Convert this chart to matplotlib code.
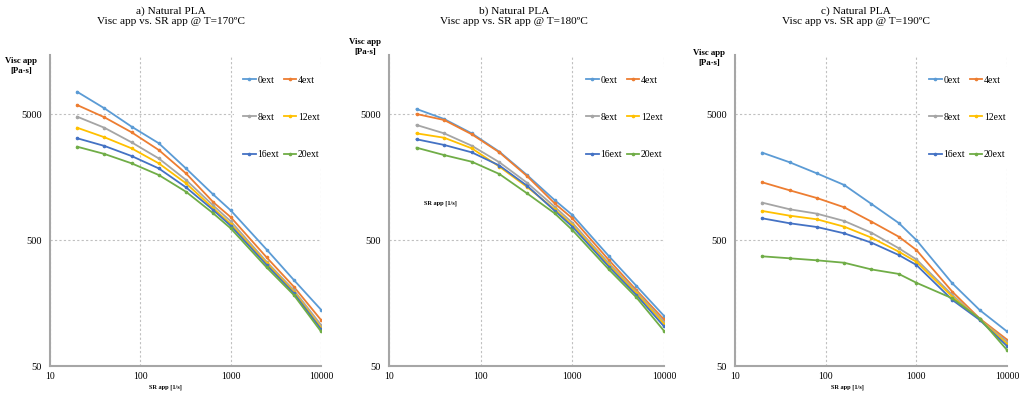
import matplotlib
matplotlib.use("Agg")
import matplotlib.pyplot as plt
from matplotlib.ticker import FixedLocator, NullLocator

plt.rcParams['font.family'] = ['Liberation Serif', 'DejaVu Serif']

# shear rate points (1/s)
shear_rate = [20, 40, 80, 160, 320, 640, 1000, 2500, 5000, 10000]
labels = ['0ext', '4ext', '8ext', '12ext', '16ext', '20ext']
colors = ['#5B9BD5', '#ED7D31', '#A5A5A5', '#FFC000', '#4472C4', '#70AD47']

# apparent viscosity (Pa·s), one row per extrusion count
visc_170 = [
    [7500, 5550, 3970, 2930, 1850, 1150, 860, 420, 241, 140],
    [5890, 4710, 3580, 2590, 1690, 1000, 760, 364, 213, 116],
    [4760, 3890, 2980, 2220, 1500, 940, 705, 336, 200, 106],
    [3890, 3270, 2670, 2030, 1410, 893, 670, 327, 194, 101],
    [3210, 2790, 2320, 1850, 1310, 865, 649, 317, 189, 98],
    [2750, 2410, 2030, 1640, 1208, 815, 619, 303, 183, 94],
]
visc_180 = [
    [5480, 4560, 3510, 2510, 1640, 1038, 790, 373, 216, 125],
    [5000, 4480, 3450, 2480, 1610, 978, 743, 347, 200, 117],
    [4090, 3510, 2800, 2070, 1425, 919, 686, 327, 194, 112],
    [3510, 3240, 2670, 1910, 1320, 877, 658, 317, 189, 108],
    [3150, 2840, 2480, 1950, 1350, 855, 638, 307, 183, 103],
    [2700, 2360, 2090, 1670, 1174, 815, 600, 292, 175, 95],
]
visc_190 = [
    [2466, 2070, 1690, 1367, 966, 682, 500, 226, 139, 94],
    [1435, 1240, 1077, 909, 699, 531, 417, 194, 119, 81],
    [989, 877, 809, 708, 571, 430, 351, 183, 117, 78],
    [850, 780, 730, 638, 522, 404, 336, 177, 117, 75],
    [743, 679, 634, 565, 476, 380, 317, 167, 116, 72],
    [371, 358, 345, 330, 292, 269, 229, 172, 119, 67],
]

titles = ['a) Natural PLA\nVisc app vs. SR app @ T=170ºC',
          'b) Natural PLA\nVisc app vs. SR app @ T=180ºC',
          'c) Natural PLA\nVisc app vs. SR app @ T=190ºC']
x_ticks = [10, 100, 1000, 10000]
y_ticks = [50, 500, 5000]

fig = plt.figure(figsize=(10.24, 3.96), dpi=100)

# [left, width] in pixels for each panel
panels = [(50, 271), (389, 275), (735, 272)]
title_x = [171, 514, 856]
ylab_pos = [(21, 66), (365, 47), (709, 58)]
xlab_pos = [(165, 387), (440, 203), (847, 387)]

W, H = 1024, 396
for i, visc in enumerate([visc_170, visc_180, visc_190]):
    left, width = panels[i]
    ax = fig.add_axes([left / W, 1 - 366 / H, width / W, 311 / H])
    lines = []
    for row, lab, c in zip(visc, labels, colors):
        ln, = ax.plot(shear_rate, row, color=c, lw=1.3, marker='o', ms=1.6,
                      mec=c, mfc=c, label=lab)
        lines.append(ln)
    ax.set_xscale('log')
    ax.set_yscale('log')
    ax.set_xlim(10, 10000)
    ax.set_ylim(50, 14700)
    ax.xaxis.set_major_locator(FixedLocator(x_ticks))
    ax.yaxis.set_major_locator(FixedLocator(y_ticks))
    ax.xaxis.set_minor_locator(NullLocator())
    ax.yaxis.set_minor_locator(NullLocator())
    ax.set_xticklabels([str(v) for v in x_ticks], fontsize=7)
    ax.set_yticklabels([str(v) for v in y_ticks], fontsize=7.5)
    ax.tick_params(length=0)
    ax.tick_params(axis='y', pad=6)
    ax.tick_params(axis='x', pad=4)
    ax.grid(True, color='#c0c0c0', lw=0.8, ls=(0, (2, 2)))
    for s in ['top', 'right']:
        ax.spines[s].set_visible(False)
    for s in ['left', 'bottom']:
        ax.spines[s].set_color('#a6a6a6')
        ax.spines[s].set_linewidth(1.5)

    order = [0, 2, 4, 1, 3, 5]
    box_right = (width + 12) / width
    leg = ax.legend([lines[k] for k in order], [labels[k] for k in order],
                    ncol=2, loc='upper right',
                    bbox_to_anchor=(box_right, (366 - 62) / 311),
                    fontsize=7, labelspacing=2.9, handlelength=1.3,
                    handletextpad=0.15, columnspacing=0.5, borderpad=0.9,
                    frameon=True, fancybox=False)
    leg.get_frame().set_facecolor('white')
    leg.get_frame().set_edgecolor('none')
    leg.get_frame().set_alpha(1)

    fig.text(title_x[i] / W, 1 - 6 / H, titles[i], ha='center', va='top',
             fontsize=8.1, linespacing=1.2)
    fig.text(ylab_pos[i][0] / W, 1 - ylab_pos[i][1] / H, 'Visc app\n[Pa·s]',
             ha='center', va='center', fontsize=6.3, fontweight='bold',
             linespacing=1.3)
    fig.text(xlab_pos[i][0] / W, 1 - xlab_pos[i][1] / H, 'SR app [1/s]',
             ha='center', va='center', fontsize=4.5, fontweight='bold')

fig.savefig('out.png', dpi=100)
